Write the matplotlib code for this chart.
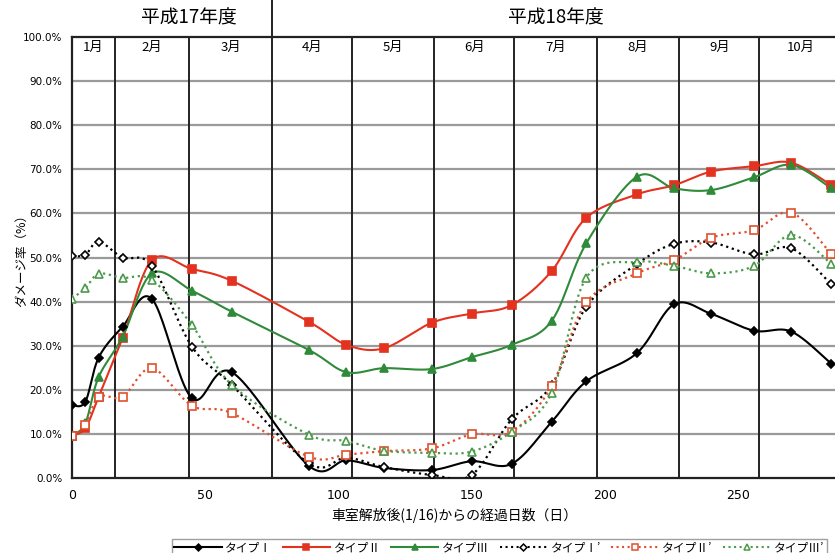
import numpy as np
import matplotlib
matplotlib.use("Agg")
import matplotlib.pyplot as plt

plt.rcParams['font.family'] = ['Noto Sans CJK JP', 'DejaVu Sans']

days = [0, 5, 10, 19, 30, 45, 60, 89, 103, 117, 135, 150, 165, 180, 193, 212, 226, 240, 256, 270, 285]

type1 = [16.5, 17.3, 27.3, 34.3, 40.6, 18.1, 24.0, 2.7, 4.0, 2.3, 1.8, 3.8, 3.2, 12.7, 21.9, 28.3, 39.4, 37.2, 33.4, 33.2, 25.9]
type2 = [9.6, 11.3, 18.4, 31.8, 49.4, 47.4, 44.7, 35.4, 30.2, 29.4, 35.2, 37.3, 39.2, 46.9, 59.0, 64.3, 66.4, 69.5, 70.7, 71.5, 66.4]
type3 = [9.6, 12.4, 22.9, 32.0, 46.4, 42.5, 37.7, 29.0, 24.0, 24.9, 24.7, 27.4, 30.2, 35.6, 53.2, 68.3, 65.7, 65.3, 68.2, 71.0, 65.7]
type1p = [50.3, 50.6, 53.6, 50.0, 48.1, 29.8, 21.1, 3.3, 4.6, 2.5, 0.7, 0.7, 13.3, 21.0, 38.8, 48.5, 53.1, 53.4, 50.7, 52.1, 43.9]
type2p = [9.6, 12.0, 18.4, 18.4, 24.9, 16.4, 14.7, 4.8, 5.3, 6.1, 6.7, 9.9, 10.5, 20.8, 39.8, 46.4, 49.4, 54.5, 56.2, 60.2, 50.7]
type3p = [40.7, 43.0, 46.3, 45.4, 44.9, 34.7, 21.1, 9.8, 8.4, 6.2, 5.7, 6.0, 10.5, 19.2, 45.4, 49.0, 48.1, 46.4, 48.1, 55.1, 48.5]

series_labels = ["タイプⅠ", "タイプⅡ", "タイプⅢ", "タイプⅠ’", "タイプⅡ’", "タイプⅢ’"]

month_bounds = [16, 44, 75, 105, 136, 166, 197, 228, 258, 289]
month_labels = ["1月", "2月", "3月", "4月", "5月", "6月", "7月", "8月", "9月", "10月"]
year_labels = ["平成17年度", "平成18年度"]
year_split = 75

xticks = [0, 50, 100, 150, 200, 250]
yticks = [0, 10, 20, 30, 40, 50, 60, 70, 80, 90, 100]


def smooth(x, y, n=24):
    x = np.asarray(x, float)
    y = np.asarray(y, float)
    P = np.column_stack([x, y])
    P = np.vstack([P[0], P, P[-1]])
    out = []
    t = np.linspace(0, 1, n, endpoint=False)
    for i in range(1, len(P) - 2):
        p0, p1, p2, p3 = P[i - 1], P[i], P[i + 1], P[i + 2]
        c1 = p1 + (p2 - p0) / 6.0
        c2 = p2 - (p3 - p1) / 6.0
        tt = t[:, None]
        seg = ((1 - tt) ** 3) * p1 + 3 * ((1 - tt) ** 2) * tt * c1 + 3 * (1 - tt) * tt ** 2 * c2 + tt ** 3 * p2
        out.append(seg)
    out.append(P[-2][None, :])
    out = np.vstack(out)
    return out[:, 0], out[:, 1]


fig = plt.figure(figsize=(8.35, 5.53), dpi=100)
ax = fig.add_axes([72 / 835, 75 / 553, 1 - 72 / 835 + 0.002, 441 / 553])

RED = "#e3321f"
GREEN = "#2f8a3a"
ORANGE = "#e0502e"
GREEN2 = "#4c9a4c"

styles = [
    (type1, "black", "-", "D", "black", 4.5),
    (type2, RED, "-", "s", RED, 5.5),
    (type3, GREEN, "-", "^", GREEN, 6),
    (type1p, "black", ":", "D", "white", 4.5),
    (type2p, ORANGE, ":", "s", "white", 5.5),
    (type3p, GREEN2, ":", "^", "white", 6),
]

handles = []
for (vals, col, ls, mk, fc, ms), lab in zip(styles, series_labels):
    sx, sy = smooth(days, vals)
    ax.plot(sx, sy, color=col, ls=ls, lw=1.5 if ls == "-" else 1.6, zorder=3)
    ax.plot(days, vals, ls="none", marker=mk, color=col, mfc=fc, mec=col, ms=ms, mew=1.2, zorder=4)
    h, = ax.plot([], [], color=col, ls=ls, lw=1.5, marker=mk, mfc=fc, mec=col, ms=ms - 1, mew=1.1)
    handles.append(h)

ax.set_xlim(0, 287)
ax.set_ylim(0, 100)
ax.set_yticks(yticks)
ax.set_yticklabels([f"{v:.1f}%" for v in yticks], fontsize=7.5, family=['DejaVu Sans'])
ax.set_xticks(xticks)
ax.set_xticklabels([str(v) for v in xticks], fontsize=9, family=['DejaVu Sans'])
ax.tick_params(length=0, pad=8)
ax.tick_params(axis='y', pad=7)

for v in yticks[1:-1]:
    ax.axhline(v, color="#9a9a9a", lw=1.6, zorder=1)

for b in month_bounds[:-1]:
    ax.axvline(b, color="#222222", lw=1.4, zorder=2)

starts = [0] + month_bounds[:-1]
for s, e, lab in zip(starts, month_bounds, month_labels):
    ax.text((s + e) / 2, 97.6, lab, ha="center", va="center", fontsize=9.5, zorder=5)

ax.plot([year_split, year_split], [100, 108.5], color="#222222", lw=1.4, clip_on=False)
ax.text(44, 104.4, year_labels[0], ha="center", va="center", fontsize=13.5)
ax.text(181.5, 104.4, year_labels[1], ha="center", va="center", fontsize=13.5)

for side in ["left", "bottom", "top"]:
    ax.spines[side].set_color("#222222")
    ax.spines[side].set_linewidth(1.6)
ax.spines["right"].set_visible(False)

ax.set_ylabel("ダメージ率（%）", fontsize=9)
ax.yaxis.set_label_coords(-0.058, 0.5)
ax.set_xlabel("車室解放後(1/16)からの経過日数（日）", fontsize=10, labelpad=4)

fig.legend(handles, series_labels, loc="upper center", bbox_to_anchor=(0.598, 0.036), ncol=6,
           fontsize=8.5, frameon=True, fancybox=False, edgecolor="#888888", handlelength=4.0,
           columnspacing=0.9, handletextpad=0.3, borderpad=0.2)

fig.savefig("out.png", dpi=100)
